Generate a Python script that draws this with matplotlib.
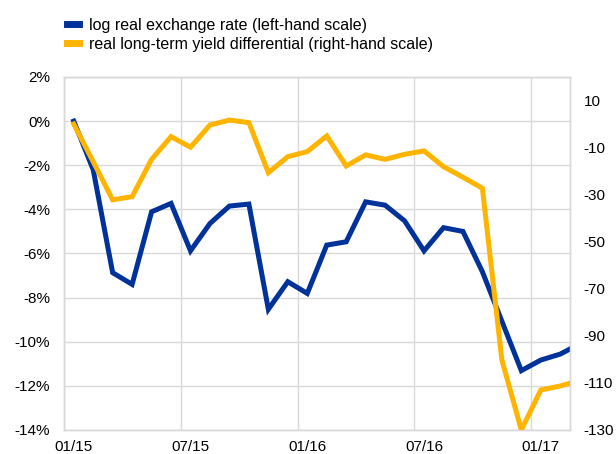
import matplotlib
matplotlib.use('Agg')
from matplotlib import pyplot as plt
from matplotlib.lines import Line2D
import numpy as np

plt.rcParams['font.family'] = ['Liberation Sans', 'DejaVu Sans']
plt.rcParams['font.size'] = 11
plt.rcParams['axes.unicode_minus'] = False

# monthly observations, Jan 2015 onwards (last one sits past the right edge)
exchange_rate = [0.0, -2.2, -6.87, -7.4, -4.11, -3.73, -5.88, -4.64, -3.85, -3.76,
                 -8.53, -7.28, -7.81, -5.62, -5.47, -3.66, -3.81, -4.52, -5.88, -4.83,
                 -5.0, -6.83, -9.07, -11.31, -10.83, -10.56, -10.1]
yield_diff = [0.0, -16.0, -32.2, -30.85, -15.0, -5.35, -9.85, -0.4, 1.7, 0.6,
              -20.65, -13.85, -11.7, -5.05, -17.8, -13.1, -15.0, -12.85, -11.4, -18.1,
              -22.6, -27.3, -100.25, -130.0, -113.0, -111.3, -109.0]
tick_labels = ['01/15', '07/15', '01/16', '07/16', '01/17']

blue = '#003299'
yellow = '#FFB400'
grid_col = '#D9D9D9'

months = np.arange(len(exchange_rate)) + 0.5

fig = plt.figure(figsize=(6.16, 4.54), dpi=100)
ax = fig.add_axes([0.1039, 0.0529, 0.8214, 0.7775])
ax2 = ax.twinx()

ax.plot(months, [v / 100 for v in exchange_rate], color=blue, lw=3.6, zorder=3,
        solid_joinstyle='miter')
ax2.plot(months, yield_diff, color=yellow, lw=3.6, zorder=3, solid_joinstyle='miter')

ax.set_xlim(0, 26)
ax.set_ylim(-0.14, 0.02)
ax2.set_ylim(-130, 20)

ax.set_yticks(np.arange(-0.14, 0.021, 0.02))
ax.yaxis.set_major_formatter(matplotlib.ticker.FuncFormatter(lambda v, p: f'{v*100:.0f}%'))
ax2.set_yticks(np.arange(-130, 11, 20))

# labels at the middle of the month, gridlines on the month boundary
ax.set_xticks([i * 6 + 0.5 for i in range(len(tick_labels))])
ax.set_xticklabels(tick_labels)
ax.set_xticks([i * 6 for i in range(len(tick_labels))], minor=True)
ax.grid(True, which='minor', axis='x', color=grid_col, lw=1)
ax.grid(True, which='major', axis='y', color=grid_col, lw=1)
ax.set_axisbelow(True)

ax.tick_params(which='both', length=0)
ax.tick_params(axis='y', pad=10)
ax.tick_params(axis='x', pad=7)
ax2.tick_params(length=0, pad=10)

for a in (ax, ax2):
    for s in a.spines.values():
        s.set_color(grid_col)
        s.set_linewidth(1)

handles = [Line2D([], [], color=blue, lw=5), Line2D([], [], color=yellow, lw=5)]
fig.legend(handles, ['log real exchange rate (left-hand scale)',
                     'real long-term yield differential (right-hand scale)'],
           loc='upper left', bbox_to_anchor=(0.085, 0.993), frameon=False,
           handlelength=0.75, handletextpad=0.65, labelspacing=0.25, fontsize=11.5)

plt.savefig('out.png', dpi=100)
